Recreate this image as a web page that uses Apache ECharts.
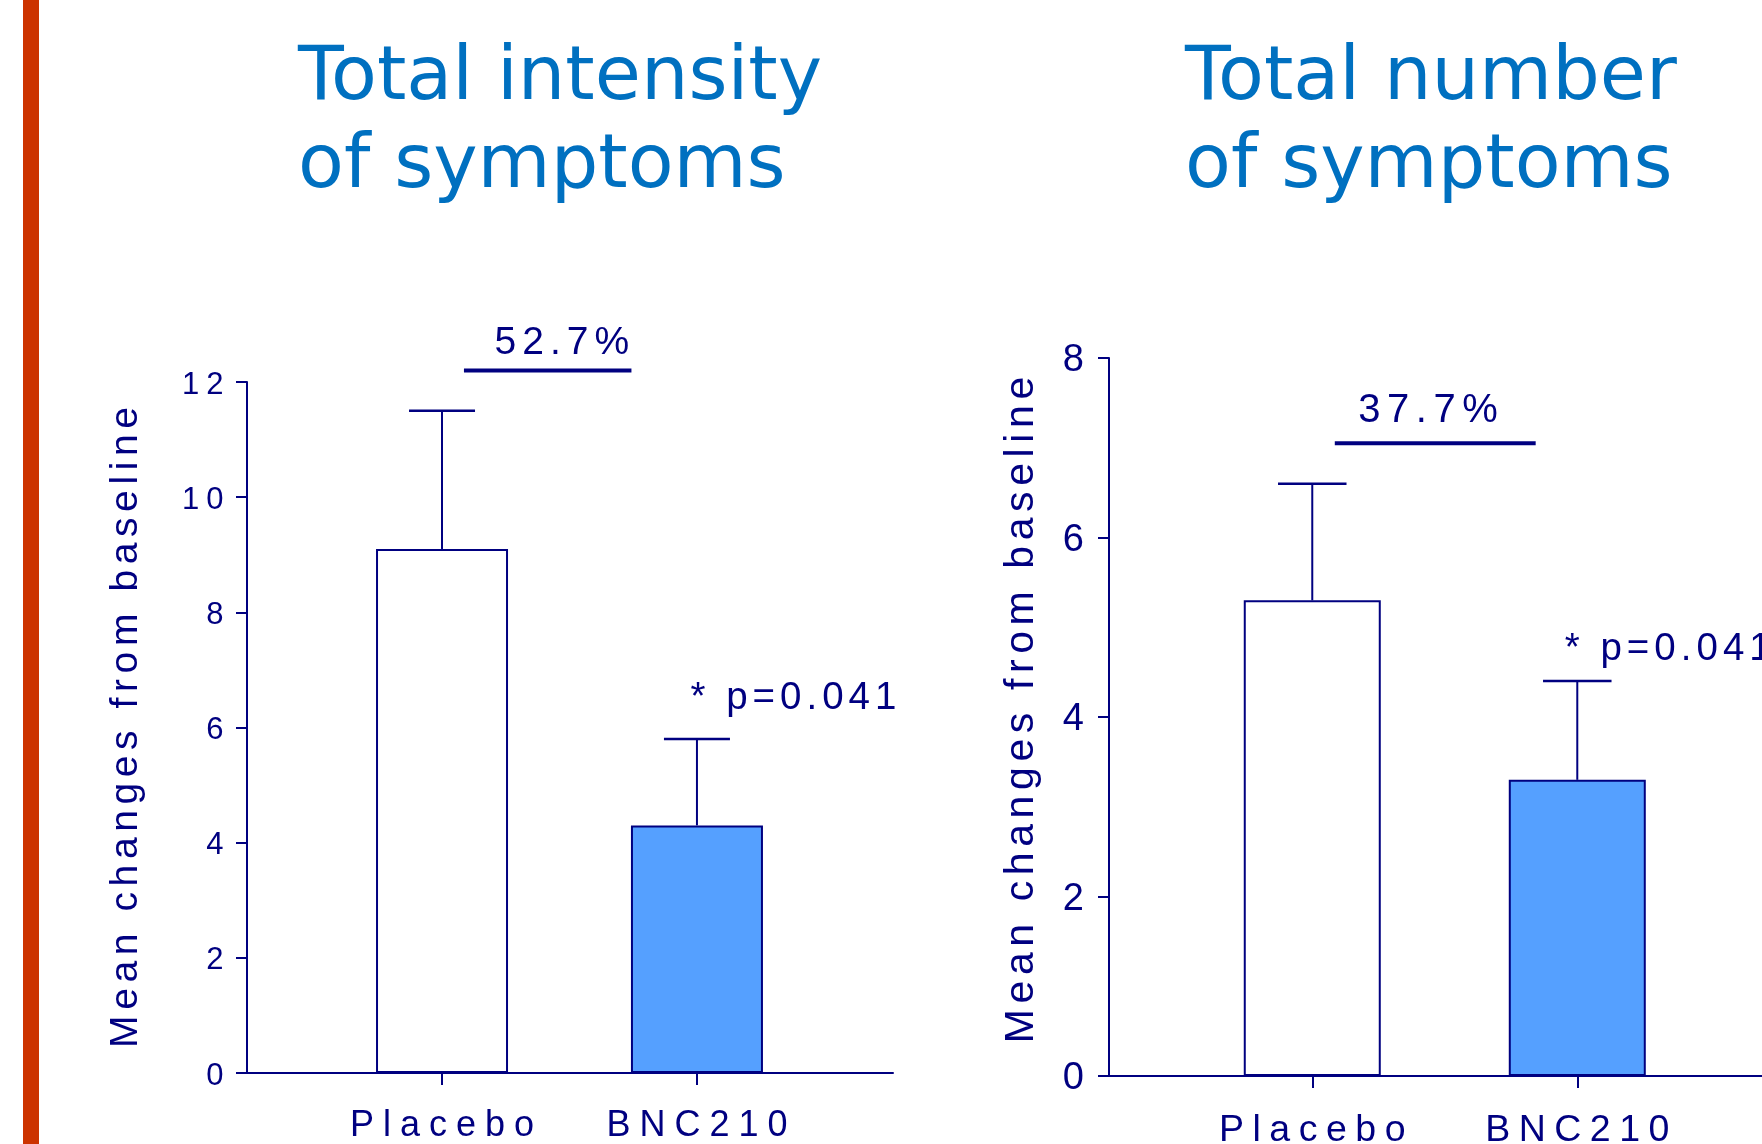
<!DOCTYPE html>
<html>
<head>
<meta charset="utf-8">
<title>BNC210 – symptom change from baseline</title>
<script src="https://cdn.jsdelivr.net/npm/echarts@6/dist/echarts.min.js"></script>
<style>
  html, body { margin: 0; padding: 0; background: #ffffff; }
  #chart { width: 1762px; height: 1144px; }
</style>
</head>
<body>
<div id="chart"></div>
<script>
// ---- data ----
const categories = ['Placebo', 'BNC210'];
const intensityMean = [9.1, 4.3];
const intensitySem = [2.4, 1.5];
const numberMean = [5.3, 3.3];
const numberSem = [1.3, 1.1];
const reductionLabels = ['52.7%', '37.7%'];
const pValueLabels = ['* p=0.041', '* p=0.041'];
const panelTitles = ['Total intensity\nof symptoms', 'Total number\nof symptoms'];
const yAxisTitle = 'Mean changes from baseline';
const yMax = [12, 8];

// ---- styling ----
const NAVY = '#000080';
const TITLE_BLUE = '#0070C0';
const BAR_FILLS = ['#ffffff', '#55A0FF'];
const FONT = '"Liberation Sans", Arial, Helvetica, sans-serif';

// letter-spaced text: every glyph becomes a rich token padded on both sides
function spaced(str) {
  return Array.from(str).map(c => '{g|' + c + '}').join('');
}
// rich style for ECharts label components
function glyphRich(size, gap) {
  return { g: { fontSize: size, fontFamily: FONT, color: NAVY, padding: [0, gap / 2, 0, gap / 2] } };
}
// rich style for raw zrender text inside custom series
function glyphRichZr(size, gap) {
  return { g: { fontSize: size, fontFamily: FONT, fill: NAVY, padding: [0, gap / 2, 0, gap / 2] } };
}

// per-panel layout
const panels = [
  {
    mean: intensityMean, sem: intensitySem, max: yMax[0],
    grid: { left: 247, top: 382, width: 646, height: 691 },
    xMin: 0.235, xMax: 2.769, barWidth: 132,
    tickFont: 31, tickGap: 7, tickMargin: 20,
    catFont: 36, catGap: 9, catMargin: 35,
    nameFont: 39, nameSpacing: 5.6, nameGap: 101, nameShift: 0,
    bracket: { from: 1.086, to: 1.743, y: 12.2 },
    pct: { x: 1.47, y: 12.68, font: 39, gap: 6 },
    pval: { x: 2, y: 6.5, dx: -9, font: 38.5, gap: 5 },
    title: { left: 298, top: 36 }
  },
  {
    mean: numberMean, sem: numberSem, max: yMax[1],
    // axis runs past the page edge; the grid stops at the right border
    grid: { left: 1109, top: 358, width: 653, height: 718 },
    xMin: 0.233, xMax: 2.697, barWidth: 137,
    tickFont: 38, tickGap: 0, tickMargin: 25,
    catFont: 37.5, catGap: 8.5, catMargin: 36,
    nameFont: 41, nameSpacing: 5.6, nameGap: 67, nameShift: 14,
    bracket: { from: 1.085, to: 1.843, y: 7.05 },
    pct: { x: 1.437, y: 7.41, font: 40, gap: 6.5 },
    pval: { x: 2, y: 4.75, dx: -15, font: 38.5, gap: 5 },
    title: { left: 1185, top: 36 }
  }
];

const option = {
  animation: false,
  backgroundColor: '#ffffff',
  title: panels.map((p, i) => ({
    text: panelTitles[i],
    left: p.title.left,
    top: p.title.top,
    padding: 0,
    textStyle: {
      fontFamily: '"DejaVu Sans", Verdana, sans-serif',
      fontWeight: 'normal',
      fontSize: 75,
      lineHeight: 88,
      color: TITLE_BLUE
    }
  })),
  graphic: [
    { type: 'rect', left: 23, top: 0, shape: { width: 16, height: 1144 }, style: { fill: '#CC3300' }, z: 10 }
  ],
  grid: panels.map(p => Object.assign({ containLabel: false, outerBoundsMode: 'none' }, p.grid)),
  xAxis: panels.map((p, i) => ({
    type: 'value',
    gridIndex: i,
    min: p.xMin,
    max: p.xMax,
    splitLine: { show: false },
    axisLine: { show: true, onZero: false, lineStyle: { color: NAVY, width: 2 } },
    axisTick: { show: true, customValues: [1, 2], length: 12, lineStyle: { color: NAVY, width: 2 } },
    axisLabel: {
      show: true,
      customValues: [1, 2],
      margin: p.catMargin,
      formatter: v => spaced(categories[Math.round(v) - 1]),
      rich: glyphRich(p.catFont, p.catGap)
    }
  })),
  yAxis: panels.map((p, i) => ({
    type: 'value',
    gridIndex: i,
    min: 0,
    max: p.max,
    interval: 2,
    splitLine: { show: false },
    axisLine: { show: true, lineStyle: { color: NAVY, width: 2 } },
    axisTick: { show: true, length: 11, lineStyle: { color: NAVY, width: 2 } },
    axisLabel: {
      margin: p.tickMargin,
      padding: [6, 0, 0, 0],
      formatter: v => spaced(String(v)),
      rich: glyphRich(p.tickFont, p.tickGap)
    },
    name: spaced(yAxisTitle),
    nameLocation: 'middle',
    nameRotate: 90,
    nameGap: p.nameGap,
    nameTextStyle: { padding: [0, 0, 0, p.nameShift], rich: glyphRich(p.nameFont, p.nameSpacing) }
  })),
  series: []
};

panels.forEach((p, i) => {
  // bars
  option.series.push({
    type: 'bar',
    xAxisIndex: i,
    yAxisIndex: i,
    barWidth: p.barWidth,
    data: p.mean.map((m, k) => ({
      value: [k + 1, m],
      itemStyle: { color: BAR_FILLS[k], borderColor: NAVY, borderWidth: 2 }
    })),
    z: 2
  });
  // upper error bars (mean + SEM)
  option.series.push({
    type: 'custom',
    xAxisIndex: i,
    yAxisIndex: i,
    clip: false,
    z: 3,
    data: p.mean.map((m, k) => [k + 1, m, m + p.sem[k]]),
    renderItem: (params, api) => {
      const base = api.coord([api.value(0), api.value(1)]);
      const top = api.coord([api.value(0), api.value(2)]);
      const half = p.barWidth / 4;
      return {
        type: 'group',
        children: [
          { type: 'line', shape: { x1: base[0], y1: base[1], x2: top[0], y2: top[1] },
            style: { stroke: NAVY, lineWidth: 2 } },
          { type: 'line', shape: { x1: top[0] - half, y1: top[1], x2: top[0] + half, y2: top[1] },
            style: { stroke: NAVY, lineWidth: 2.5 } }
        ]
      };
    }
  });
  // reduction bracket, percentage and p-value
  option.series.push({
    type: 'custom',
    xAxisIndex: i,
    yAxisIndex: i,
    clip: false,
    z: 4,
    data: [[p.pval.x, p.mean[1] + p.sem[1]]],
    renderItem: (params, api) => {
      const a = api.coord([p.bracket.from, p.bracket.y]);
      const b = api.coord([p.bracket.to, p.bracket.y]);
      const pc = api.coord([p.pct.x, p.pct.y]);
      const pv = api.coord([api.value(0), p.pval.y]);
      return {
        type: 'group',
        children: [
          { type: 'line', shape: { x1: a[0], y1: a[1], x2: b[0], y2: b[1] },
            style: { stroke: NAVY, lineWidth: 4 } },
          { type: 'text', x: pc[0], y: pc[1],
            style: { text: spaced(reductionLabels[i]), rich: glyphRichZr(p.pct.font, p.pct.gap),
                     fill: NAVY, align: 'center', verticalAlign: 'middle' } },
          { type: 'text', x: pv[0] + p.pval.dx, y: pv[1],
            style: { text: spaced(pValueLabels[i]), rich: glyphRichZr(p.pval.font, p.pval.gap),
                     fill: NAVY, align: 'left', verticalAlign: 'middle' } }
        ]
      };
    }
  });
});

const chart = echarts.init(document.getElementById('chart'), null, { renderer: 'canvas' });
chart.setOption(option);
</script>
</body>
</html>
